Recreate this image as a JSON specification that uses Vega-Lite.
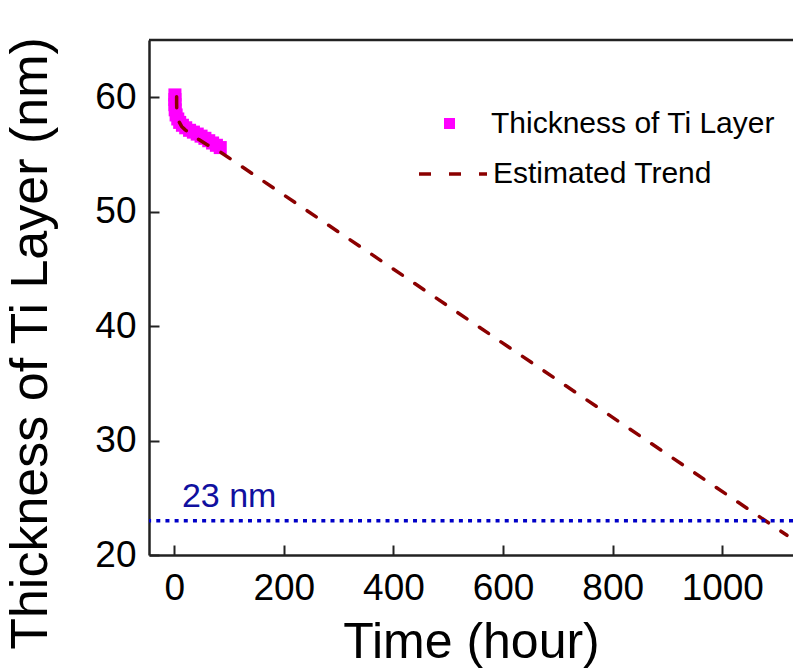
{
  "$schema": "https://vega.github.io/schema/vega-lite/v6.json",
  "width": 644,
  "height": 515,
  "autosize": {"type": "none"},
  "padding": {"left": 149, "top": 40, "right": 0, "bottom": 116},
  "background": "white",
  "config": {"font": "Liberation Sans", "view": {"stroke": null}, "axis": {"grid": false}},
  "datasets": {
    "thickness": [
      {"t": 1.3, "v": 60.2, "series": "Thickness of Ti Layer"},
      {"t": 1.3, "v": 59.8, "series": "Thickness of Ti Layer"},
      {"t": 1.3, "v": 59.35, "series": "Thickness of Ti Layer"},
      {"t": 1.8, "v": 58.9, "series": "Thickness of Ti Layer"},
      {"t": 3.5, "v": 58.45, "series": "Thickness of Ti Layer"},
      {"t": 6.5, "v": 58.1, "series": "Thickness of Ti Layer"},
      {"t": 10, "v": 57.8, "series": "Thickness of Ti Layer"},
      {"t": 15, "v": 57.55, "series": "Thickness of Ti Layer"},
      {"t": 21, "v": 57.33, "series": "Thickness of Ti Layer"},
      {"t": 28, "v": 57.11, "series": "Thickness of Ti Layer"},
      {"t": 35, "v": 56.95, "series": "Thickness of Ti Layer"},
      {"t": 42, "v": 56.78, "series": "Thickness of Ti Layer"},
      {"t": 49, "v": 56.6, "series": "Thickness of Ti Layer"},
      {"t": 56, "v": 56.41, "series": "Thickness of Ti Layer"},
      {"t": 63, "v": 56.2, "series": "Thickness of Ti Layer"},
      {"t": 70, "v": 56.0, "series": "Thickness of Ti Layer"},
      {"t": 77, "v": 55.8, "series": "Thickness of Ti Layer"},
      {"t": 84, "v": 55.6, "series": "Thickness of Ti Layer"}
    ],
    "trend": [
      {"i": 1, "t": 4.4, "v": 60.05, "series": "Estimated Trend"},
      {"i": 2, "t": 4.4, "v": 59.5, "series": "Estimated Trend"},
      {"i": 3, "t": 4.6, "v": 58.95, "series": "Estimated Trend"},
      {"i": 4, "t": 6.0, "v": 58.35, "series": "Estimated Trend"},
      {"i": 5, "t": 9, "v": 57.85, "series": "Estimated Trend"},
      {"i": 6, "t": 13.5, "v": 57.45, "series": "Estimated Trend"},
      {"i": 7, "t": 20, "v": 57.15, "series": "Estimated Trend"},
      {"i": 8, "t": 30, "v": 56.8, "series": "Estimated Trend"},
      {"i": 9, "t": 45, "v": 56.3, "series": "Estimated Trend"},
      {"i": 10, "t": 60, "v": 55.85, "series": "Estimated Trend"},
      {"i": 11, "t": 83, "v": 55.25, "series": "Estimated Trend"},
      {"i": 12, "t": 1118, "v": 21.72, "series": "Estimated Trend"}
    ]
  },
  "layer": [
    {
      "data": {"name": "thickness"},
      "mark": {"type": "square", "size": 170, "opacity": 1},
      "encoding": {
        "x": {
          "field": "t", "type": "quantitative",
          "scale": {"domain": [-46, 1129], "nice": false, "zero": false},
          "axis": {
            "values": [0, 200, 400, 600, 800, 1000],
            "format": "d",
            "title": "Time (hour)",
            "titleFontSize": 50, "titleFontWeight": "normal", "titleColor": "black",
            "titleBaseline": "alphabetic", "titleY": 102,
            "labelFontSize": 37, "labelColor": "black", "labelPadding": 54,
            "labelBaseline": "alphabetic", "labelFlush": false, "labelOverlap": false,
            "tickSize": -10, "tickWidth": 2, "tickColor": "#222",
            "domainColor": "#222", "domainWidth": 2.5
          }
        },
        "y": {
          "field": "v", "type": "quantitative",
          "scale": {"domain": [20, 65], "nice": false, "zero": false},
          "axis": {
            "values": [20, 30, 40, 50, 60],
            "format": "d",
            "title": "Thickness of Ti Layer (nm)",
            "titleFontSize": 52, "titleFontWeight": "normal", "titleColor": "black",
            "titleAngle": -90, "titleAlign": "center", "titleBaseline": "alphabetic",
            "titleX": -102.5, "titleY": 303,
            "labelFontSize": 37, "labelColor": "black", "labelPadding": 23,
            "labelFlush": false, "labelOverlap": false,
            "tickSize": -10, "tickWidth": 2, "tickColor": "#222",
            "domainColor": "#222", "domainWidth": 2.5
          }
        },
        "fill": {
          "field": "series", "type": "nominal",
          "scale": {"range": ["#ff00ff"]},
          "legend": {
            "title": null, "orient": "none", "legendX": 285.5, "legendY": 68.5,
            "symbolType": "square", "symbolSize": 121, "symbolStrokeWidth": 0,
            "labelFontSize": 30, "labelColor": "black", "labelOffset": 26.5,
            "labelLimit": 0, "padding": 0
          }
        }
      }
    },
    {
      "data": {"name": "trend"},
      "mark": {"type": "line", "strokeWidth": 3.5, "strokeDash": [11, 15], "strokeCap": "round"},
      "encoding": {
        "x": {"field": "t", "type": "quantitative"},
        "y": {"field": "v", "type": "quantitative"},
        "order": {"field": "i", "type": "quantitative"},
        "stroke": {
          "field": "series", "type": "nominal",
          "scale": {"range": ["#8b0000"]},
          "legend": {
            "title": null, "orient": "none", "legendX": 268, "legendY": 98,
            "symbolType": "stroke", "symbolSize": 4624, "symbolStrokeWidth": 3.5,
            "symbolDash": [12, 18],
            "labelFontSize": 30, "labelColor": "black", "labelOffset": 4,
            "labelLimit": 0, "padding": 0
          }
        }
      }
    },
    {
      "data": {"values": [{}]},
      "mark": {"type": "rule", "color": "#0000c8", "strokeWidth": 3.5, "strokeDash": [4, 5.17], "strokeCap": "butt"},
      "encoding": {"y": {"datum": 23, "type": "quantitative"}}
    },
    {
      "data": {"values": [{}]},
      "mark": {"type": "rule", "color": "#222", "strokeWidth": 2.5},
      "encoding": {"y": {"datum": 65, "type": "quantitative"}}
    },
    {
      "data": {"values": [{}]},
      "mark": {"type": "text", "text": "23 nm", "align": "left", "baseline": "alphabetic", "fontSize": 34, "color": "#10109f"},
      "encoding": {
        "x": {"datum": 14, "type": "quantitative"},
        "y": {"datum": 24.2, "type": "quantitative"}
      }
    }
  ]
}
